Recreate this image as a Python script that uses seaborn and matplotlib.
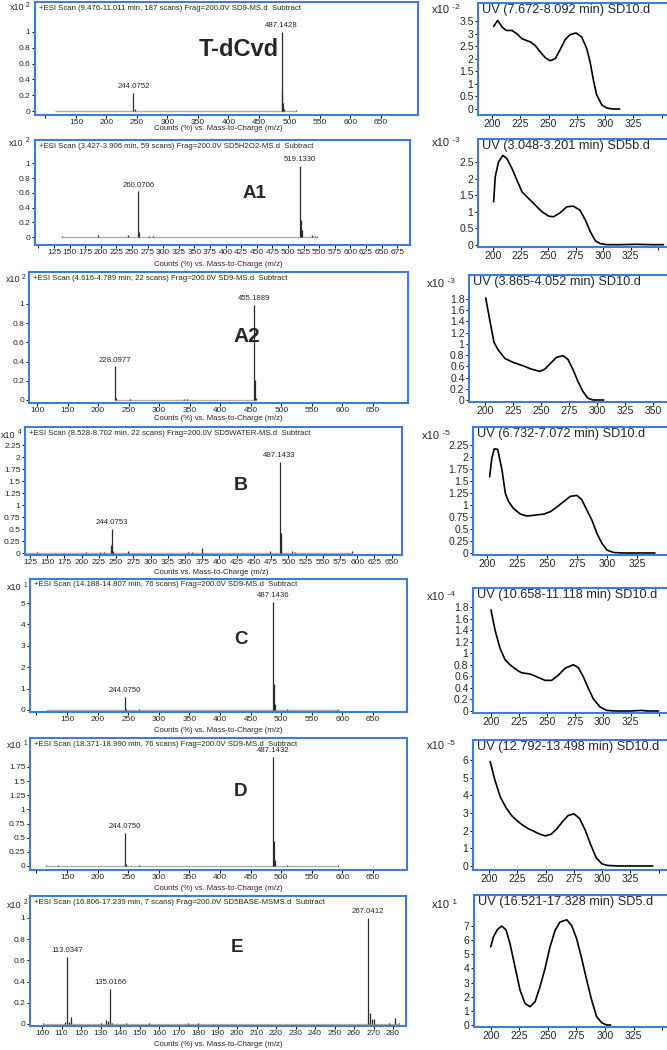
import numpy as np
import pandas as pd
import matplotlib
matplotlib.use("Agg")
import matplotlib.pyplot as plt
from matplotlib.ticker import FuncFormatter
import seaborn as sns

sns.set_style("white")
plt.rcParams['font.family'] = ['Liberation Sans', 'DejaVu Sans']

# ---------------- data ----------------
compounds = ['T-dCvd', 'A1', 'A2', 'B', 'C', 'D', 'E']

ms_titles = [
    '+ESI Scan (9.476-11.011 min, 187 scans) Frag=200.0V SD9-MS.d  Subtract',
    '+ESI Scan (3.427-3.906 min, 59 scans) Frag=200.0V SD5H2O2-MS.d  Subtract',
    '+ESI Scan (4.616-4.789 min, 22 scans) Frag=200.0V SD9-MS.d  Subtract',
    '+ESI Scan (8.528-8.702 min, 22 scans) Frag=200.0V SD5WATER-MS.d  Subtract',
    '+ESI Scan (14.188-14.807 min, 76 scans) Frag=200.0V SD9-MS.d  Subtract',
    '+ESI Scan (18.371-18.990 min, 76 scans) Frag=200.0V SD9-MS.d  Subtract',
    '+ESI Scan (16.806-17.239 min, 7 scans) Frag=200.0V SD5BASE-MSMS.d  Subtract',
]
uv_titles = [
    'UV (7.672-8.092 min) SD10.d',
    'UV (3.048-3.201 min) SD5b.d',
    'UV (3.865-4.052 min) SD10.d',
    'UV (6.732-7.072 min) SD10.d',
    'UV (10.658-11.118 min) SD10.d',
    'UV (12.792-13.498 min) SD10.d',
    'UV (16.521-17.328 min) SD5.d',
]
ms_xlabels = ['Counts (%) vs. Mass-to-Charge (m/z)'] * 3 + \
             ['Counts vs. Mass-to-Charge (m/z)'] + \
             ['Counts (%) vs. Mass-to-Charge (m/z)'] * 3
ms_exp = ['2', '2', '2', '4', '1', '1', '2']
uv_exp = ['-2', '-3', '-3', '-5', '-4', '-5', '1']

# mass spectra: m/z and intensity (scaled units)
tdcvd_mz = [115, 133, 244.0752, 246, 268, 487.1428, 488.5, 489.5, 490.5, 510]
tdcvd_int = [0.005, 0.005, 0.23, 0.02, 0.005, 1.0, 0.27, 0.1, 0.03, 0.01]
tdcvd_lab = [244.0752, 487.1428]

a1_mz = [138, 195, 243, 260.0706, 262, 278, 283, 519.1330, 521, 522, 539, 543, 547]
a1_int = [0.01, 0.03, 0.03, 0.62, 0.07, 0.01, 0.01, 0.97, 0.23, 0.1, 0.03, 0.02, 0.01]
a1_lab = [260.0706, 519.1330]

a2_mz = [228.0977, 230, 252, 340, 345, 455.1889, 457, 459]
a2_int = [0.35, 0.02, 0.01, 0.01, 0.01, 0.99, 0.21, 0.02]
a2_lab = [228.0977, 455.1889]

b_mz = [115, 135, 207, 227, 232, 242, 244.0753, 246, 267, 355, 360, 375,
        473, 487.1433, 489, 490, 505, 510, 592]
b_int = [0.04, 0.02, 0.02, 0.02, 0.02, 0.17, 0.5, 0.04, 0.04, 0.02, 0.02, 0.11,
         0.05, 1.9, 0.42, 0.22, 0.05, 0.02, 0.04]
b_lab = [244.0753, 487.1433]

c_mz = [115, 135, 244.0750, 246, 267, 487.1436, 488.5, 490, 510, 592]
c_int = [0.01, 0.02, 0.6, 0.05, 0.03, 5.05, 1.2, 0.3, 0.03, 0.03]
c_lab = [244.0750, 487.1436]

d_mz = [115, 135, 244.0750, 246, 267, 487.1432, 488.5, 490, 510, 592]
d_int = [0.01, 0.01, 0.58, 0.04, 0.02, 1.93, 0.45, 0.1, 0.02, 0.01]
d_lab = [244.0750, 487.1432]

e_mz = [100.5, 112, 113.0347, 114, 115, 130, 133, 134, 135.0166, 136, 143, 155,
        175, 180, 267.0412, 268, 269, 270, 278, 281, 283]
e_int = [0.005, 0.02, 0.63, 0.02, 0.07, 0.005, 0.04, 0.03, 0.33, 0.01, 0.005, 0.01,
         0.005, 0.005, 1.0, 0.1, 0.05, 0.05, 0.01, 0.06, 0.01]
e_lab = [113.0347, 135.0166, 267.0412]

# UV spectra: wavelength (nm) and absorbance (scaled units)
uv_tdcvd_nm = [201.5, 205, 209, 212.6, 217.6, 222, 226.5, 234, 238, 242.6, 247, 251.5, 256,
               260, 264.7, 269, 274.4, 279.4, 283.8, 286.8, 289.7, 292.6, 297, 301.5, 307, 313]
uv_tdcvd_abs = [3.29, 3.53, 3.26, 3.13, 3.13, 3.0, 2.8, 2.67, 2.54, 2.28, 2.05, 1.92, 2.01,
                2.34, 2.76, 2.96, 3.03, 2.87, 2.41, 1.88, 1.16, 0.57, 0.17, 0.04, 0.0, 0.0]

uv_a1_nm = [200.6, 202, 205, 209, 212.7, 217.3, 221.8, 226.4, 232.4, 238.5, 244.5, 250.6, 255,
            261, 267, 273, 279, 284, 288.5, 293, 297.6, 303.6, 315, 330, 345, 355]
uv_a1_abs = [1.3, 2.05, 2.5, 2.7, 2.6, 2.3, 1.95, 1.6, 1.4, 1.2, 1.0, 0.87, 0.85,
             0.97, 1.15, 1.17, 1.05, 0.75, 0.4, 0.13, 0.04, 0.01, 0.01, 0.02, 0.01, 0.01]

uv_a2_nm = [200.6, 204.5, 208, 211.9, 217.8, 225.2, 234, 241.5, 249, 253.4, 259.3, 263.8,
            269.7, 274.2, 278.6, 283, 287.5, 292, 296.4, 302.4, 306]
uv_a2_abs = [1.82, 1.4, 1.03, 0.89, 0.74, 0.67, 0.61, 0.55, 0.51, 0.55, 0.67, 0.76,
             0.79, 0.72, 0.54, 0.33, 0.15, 0.03, 0.0, 0.0, 0.0]

uv_b_nm = [202.2, 204, 206, 208.9, 212.5, 215.3, 218, 222, 227.8, 233.3, 240.3, 247.2, 252.8,
           258.3, 263.9, 269.4, 275, 279, 283.3, 287.5, 291.7, 295.8, 300, 305.6, 313.9, 325, 340]
uv_b_abs = [1.59, 1.97, 2.17, 2.16, 1.73, 1.24, 1.07, 0.93, 0.81, 0.77, 0.79, 0.81, 0.86,
            0.96, 1.07, 1.18, 1.2, 1.11, 0.89, 0.68, 0.4, 0.2, 0.06, 0.01, 0.0, 0.0, 0.0]

uv_c_nm = [200, 203.6, 208, 212.5, 217, 223, 227.5, 235, 242.4, 248.4, 254.3, 260.3, 266.3,
           273.7, 278.2, 282.7, 287.2, 291.6, 297.6, 303.6, 311, 325, 335, 340, 350]
uv_c_abs = [1.75, 1.4, 1.09, 0.89, 0.8, 0.71, 0.66, 0.64, 0.58, 0.53, 0.53, 0.62, 0.74,
            0.8, 0.75, 0.59, 0.39, 0.21, 0.07, 0.01, 0.0, 0.0, 0.01, 0.0, 0.0]

uv_d_nm = [201, 205, 210, 215, 220, 225, 230, 235, 240, 245, 250, 255, 260, 265, 270, 275,
           280, 285, 290, 295, 300, 305, 315, 330, 345]
uv_d_abs = [5.9, 4.9, 3.9, 3.3, 2.85, 2.55, 2.3, 2.1, 1.95, 1.8, 1.7, 1.8, 2.1, 2.5, 2.85, 2.95,
            2.7, 2.05, 1.2, 0.45, 0.12, 0.03, 0.0, 0.0, 0.0]

uv_e_nm = [200, 202.3, 205.8, 209.6, 213.4, 216.9, 221.3, 225.7, 230, 234.4, 238.8, 243.1,
           247.5, 251.9, 256.3, 260.6, 266.5, 270.8, 275.2, 279.6, 284, 288.3, 292.7, 297.1,
           301.5, 305]
uv_e_abs = [5.52, 6.22, 6.74, 7.0, 6.74, 5.75, 4.1, 2.46, 1.53, 1.29, 1.64, 2.7,
            3.99, 5.52, 6.69, 7.28, 7.44, 7.04, 6.1, 4.7, 3.17, 1.76, 0.59, 0.16,
            0.0, 0.0]

ms_data = [(tdcvd_mz, tdcvd_int, tdcvd_lab), (a1_mz, a1_int, a1_lab), (a2_mz, a2_int, a2_lab),
           (b_mz, b_int, b_lab), (c_mz, c_int, c_lab), (d_mz, d_int, d_lab),
           (e_mz, e_int, e_lab)]
uv_data = [(uv_tdcvd_nm, uv_tdcvd_abs), (uv_a1_nm, uv_a1_abs), (uv_a2_nm, uv_a2_abs),
           (uv_b_nm, uv_b_abs), (uv_c_nm, uv_c_abs), (uv_d_nm, uv_d_abs),
           (uv_e_nm, uv_e_abs)]

# tick specs: (first, last, step)
ms_xticks = [(100, 650, 50), (100, 675, 25), (100, 650, 50), (125, 650, 25),
             (100, 650, 50), (100, 650, 50), (100, 280, 10)]
ms_hide_first = [True, True, False, False, True, True, False]
ms_yticks = [(0, 1, 0.2), (0, 1, 0.2), (0, 1, 0.2), (0, 2.25, 0.25),
             (0, 5, 1), (0, 1.75, 0.25), (0, 1, 0.2)]
uv_yticks = [(0, 3.5, 0.5), (0, 2.5, 0.5), (0, 1.8, 0.2), (0, 2.25, 0.25),
             (0, 1.8, 0.2), (0, 6, 1), (0, 7, 1)]
uv_xticks = [200, 225, 250, 275, 300, 325, 350]

# ---------------- layout (pixels in a 667x1050 canvas) ----------------
W, H = 667, 1050
BLUE = '#3f7bd9'

# box (left, top, right, bottom), x calib (value, px, px/unit), y calib (px of zero, px/unit)
ms_box = [(35, 2, 418, 115), (35, 140, 410, 245), (29, 272, 408, 403), (25, 427, 402, 555),
          (30, 579, 407, 712), (30, 738, 407, 870), (30, 896, 406, 1026)]
ms_xcal = [(150, 76, 0.61), (125, 54, 0.624), (100, 37, 0.611), (125, 30, 0.689),
           (150, 67, 0.612), (150, 67, 0.612), (100, 42, 1.95)]
ms_ycal = [(111, 79), (237, 73.7), (400, 96), (553, 48), (710, 21.4), (866, 56.6), (1024, 106)]
ms_mult = [(10, 8), (9, 143), (6, 280), (1, 435), (7, 588), (7, 746), (7, 905)]
ms_xlab_pos = [(218, 129), (218, 265), (218, 419), (211, 573), (218, 730), (218, 888), (218, 1045)]
big_pos = [(239, 50), (254, 193), (247, 337), (241, 486), (241, 640), (240, 791), (237, 948)]
big_size = [17, 13.5, 15, 14, 13.5, 13.5, 13.5]

uv_box = [(478, 3, 667, 115), (478, 139, 667, 247), (469, 275, 667, 402), (473, 427, 667, 555),
          (473, 588, 667, 713), (473, 740, 667, 870), (474, 895, 667, 1027)]
uv_xcal = [(200, 492, 1.13), (200, 493, 1.1), (200, 485, 1.12), (200, 487, 1.2),
           (200, 491, 1.117), (200, 489, 1.13), (200, 490.7, 1.143)]
uv_ycal = [(109, 25.1), (245, 33.2), (400, 56.1), (553, 48), (711, 57.8), (866, 17.7), (1025, 14.14)]
uv_mult = [(432, 10), (432, 143), (427, 284), (422, 436), (427, 597), (427, 746), (432, 905)]

fig = plt.figure(figsize=(W / 100, H / 100), dpi=100)
fmt = FuncFormatter(lambda v, p: f'{round(v, 4):g}')


def add_box(box):
    l, t, r, b = box
    return fig.add_axes([l / W, 1 - b / H, (r - l) / W, (b - t) / H])


def set_limits(ax, box, xcal, ycal):
    l, t, r, b = box
    v, px, s = xcal
    ax.set_xlim(v + (l - px) / s, v + (r - px) / s)
    y0, sy = ycal
    ax.set_ylim((y0 - b) / sy, (y0 - t) / sy)


def style(ax, fs):
    for sp in ax.spines.values():
        sp.set_color(BLUE)
        sp.set_linewidth(1.5)
    ax.tick_params(length=2.2, width=0.7, labelsize=fs, pad=1, color='black',
                   bottom=True, left=True, top=False, right=False)
    ax.yaxis.set_major_formatter(fmt)
    ax.set_xlabel('')
    ax.set_ylabel('')


def multiplier(ax, pos, exp, fs):
    x, y = pos
    t = fig.text(x / W, 1 - y / H, 'x10', fontsize=fs, ha='left', va='center')
    ax.annotate(' ' + exp, xy=(1, 0.75), xycoords=t, fontsize=fs * 0.75,
                ha='left', va='center', annotation_clip=False)


for i in range(7):
    # ---- mass spectrum ----
    mz, inten, labs = ms_data[i]
    ax = add_box(ms_box[i])
    set_limits(ax, ms_box[i], ms_xcal[i], ms_ycal[i])
    ax.hlines(0, min(mz), max(mz), color='#b0b0b0', lw=1.0, zorder=2)
    ax.vlines(mz, 0, inten, color='#2b2b2b', lw=0.9, zorder=3)
    for lm in labs:
        h = inten[mz.index(lm)]
        ax.annotate(f'{lm:.4f}', xy=(lm, h), xytext=(0, 2), textcoords='offset points',
                    ha='center', va='bottom', fontsize=5.6)
    a, b, s = ms_xticks[i]
    xt = np.arange(a, b + s / 2, s)
    ax.set_xticks(xt)
    ax.set_xticklabels([('' if (k == 0 and ms_hide_first[i]) else f'{v:g}') for k, v in enumerate(xt)])
    a, b, s = ms_yticks[i]
    ax.set_yticks(np.arange(a, b + s / 2, s))
    style(ax, 6)
    ax.annotate(ms_titles[i], xy=(0, 1), xycoords='axes fraction', xytext=(4, -6),
                textcoords='offset pixels', ha='left', va='center', fontsize=5.6)
    bx, by = big_pos[i]
    fig.text(bx / W, 1 - by / H, compounds[i], fontsize=big_size[i], fontweight='bold',
             ha='center', va='center')
    lx, ly = ms_xlab_pos[i]
    fig.text(lx / W, 1 - ly / H, ms_xlabels[i], fontsize=5.6, ha='center', va='center')
    multiplier(ax, ms_mult[i], ms_exp[i], 6.5)

    # ---- UV spectrum ----
    nm, absb = uv_data[i]
    ux = add_box(uv_box[i])
    uv_df = pd.DataFrame({'nm': nm, 'abs': absb})
    sns.lineplot(data=uv_df, x='nm', y='abs', ax=ux, color='black', lw=1.2)
    set_limits(ux, uv_box[i], uv_xcal[i], uv_ycal[i])
    v, px, s = uv_xcal[i]
    ux.set_xticks(uv_xticks)
    # labels that would run past the right edge of the canvas stay blank
    ux.set_xticklabels([f'{t}' if px + (t - v) * s + 10 < W else '' for t in uv_xticks])
    a, b, s = uv_yticks[i]
    ux.set_yticks(np.arange(a, b + s / 2, s))
    style(ux, 7.5)
    ux.spines['right'].set_visible(False)
    ux.annotate(uv_titles[i], xy=(0, 1), xycoords='axes fraction', xytext=(4, -7),
                textcoords='offset pixels', ha='left', va='center', fontsize=9.2,
                annotation_clip=False)
    multiplier(ux, uv_mult[i], uv_exp[i], 8)

fig.savefig('out.png', dpi=100)
